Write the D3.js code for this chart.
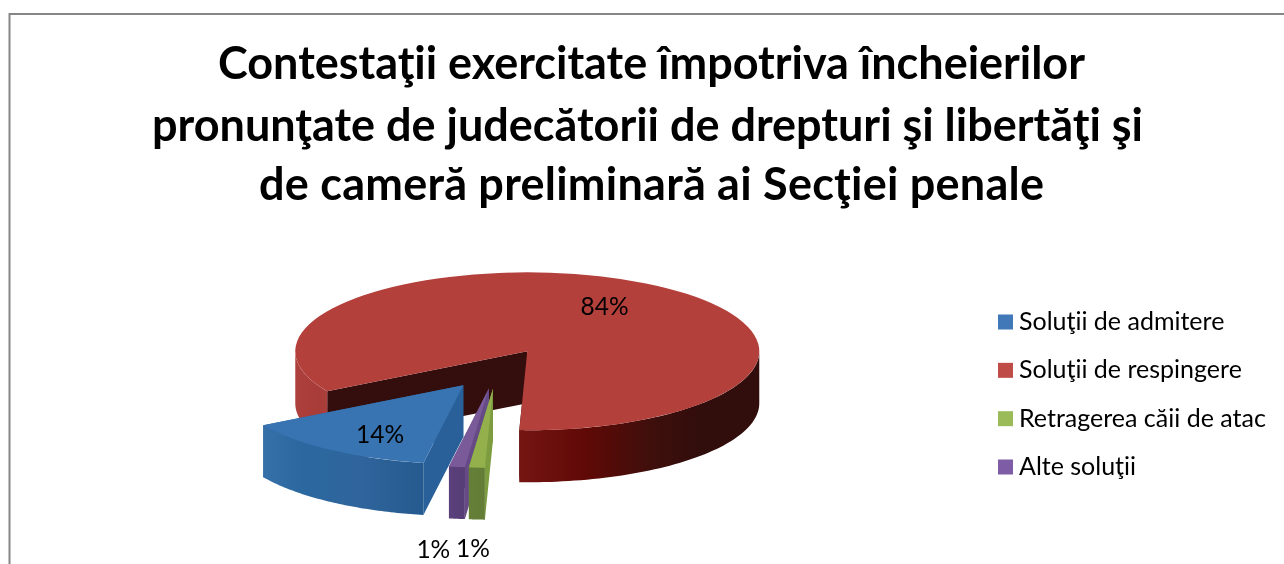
<!DOCTYPE html>
<html><head><meta charset="utf-8">
<script src="https://cdn.jsdelivr.net/npm/d3@7/dist/d3.min.js"></script>
<style>html,body{margin:0;background:#fff;overflow:hidden}svg{display:block;filter:blur(.6px)}text{font-family:Lato,"Open Sans",sans-serif;fill:#000}</style>
</head><body><svg id="c" width="1284" height="564"></svg>
<script>
const titleLines = ["Contestaţii exercitate împotriva încheierilor","pronunţate de judecătorii de drepturi şi libertăţi şi","de cameră preliminară ai Secţiei penale"];
const categories = ["Soluţii de admitere","Soluţii de respingere","Retragerea căii de atac","Alte soluţii"];
const values = [13.8, 84.0, 1.1, 1.1];
const topColors = ["#3874b2","#b4403c","#93b04c","#7a5a99"];
const sideColors = ["#29609a","#340e0d","#7d9c3f","#654a86"];
const legendColors = ["#4178b8","#c04c48","#9bbb59","#7f5da6"];
const wallStops = [
  [["#3670a8",0],["#2b689f",.25],["#2f659c",.6],["#245a8e",1]],
  [["#ad403d",0],["#a83c39",.05],["#ad403d",.08],["#741512",.49],["#600906",.625],["#3f0f0c",.765],["#310d0b",.87],["#310d0b",1]],
  [["#657f38",0],["#637d36",1]],
  [["#5a417c",0],["#573c75",1]]
];
const drawOrder = [1,3,2,0];
const labelRadius = [0.72,0.66,2.0,2.05];
const labelNudge = [[12,3],[-1,1],[12,3],[10,1.5]];

const CX=497, CY=368.6, RX=232, RY=79, DEPTH=52, EXPLODE=0.255, START=189.9;
const svg=d3.select("#c");
const rad=d=>d*Math.PI/180;
const pie=d3.pie().sort(null).value(d=>d).startAngle(rad(START)).endAngle(rad(START+360));
const arcs=pie(values);
const total=d3.sum(values);
const arcGen=d3.arc().innerRadius(0).outerRadius(RX);
const proj=(a,r=1)=>[Math.sin(a)*RX*r,-Math.cos(a)*RY*r];
const line=d3.line();
const defs=svg.append("defs");

// frame
svg.append("path").attr("d",d3.line()([[1284,14],[9.5,14],[9.5,564]])).attr("fill","none").attr("stroke","#868686").attr("stroke-width",2);

// title
const title=svg.append("g");
titleLines.forEach((t,i)=>title.append("text").attr("x",[651.5,647.5,651.5][i]).attr("y",[79,141,200][i]).attr("text-anchor","middle")
  .attr("font-size",45).attr("font-weight",700).attr("textLength",[867,991,785][i]).text(t));

// pie
drawOrder.forEach(i=>{
  const a=arcs[i], mid=(a.startAngle+a.endAngle)/2;
  const off=proj(mid,EXPLODE), ox=CX+off[0], oy=CY+off[1];
  const g=svg.append("g").attr("transform",`translate(${ox},${oy})`);
  const edge=ang=>{const p=proj(ang);return [[0,0],p,[p[0],p[1]+DEPTH],[0,DEPTH]];};
  // cut faces
  g.append("path").attr("d",line(edge(a.startAngle))+"Z").attr("fill",sideColors[i]);
  g.append("path").attr("d",line(edge(a.endAngle))+"Z").attr("fill",sideColors[i]);
  // outer wall: visible where the rim faces the viewer
  const gid="w"+i;
  const spans=[];
  for(const k of [0,1]){
    const lo=Math.max(a.startAngle,rad(90)+k*2*Math.PI), hi=Math.min(a.endAngle,rad(270)+k*2*Math.PI);
    if(hi>lo) spans.push([lo,hi]);
  }
  const xs=spans.flatMap(s=>[proj(s[0])[0],proj(s[1])[0]]);
  const lg=defs.append("linearGradient").attr("id",gid).attr("gradientUnits","userSpaceOnUse")
    .attr("x1",d3.min(xs)).attr("x2",d3.max(xs)).attr("y1",0).attr("y2",0);
  wallStops[i].forEach(s=>lg.append("stop").attr("offset",s[1]).attr("stop-color",s[0]));
  spans.forEach(s=>{
    const pts=d3.range(0,61).map(k=>proj(s[0]+(s[1]-s[0])*k/60));
    const poly=pts.concat(pts.slice().reverse().map(p=>[p[0],p[1]+DEPTH]));
    g.append("path").attr("d",line(poly)+"Z").attr("fill",`url(#${gid})`);
  });
  // top face
  g.append("path").attr("transform",`scale(1,${RY/RX})`).attr("d",arcGen(a)).attr("fill",topColors[i]);
});

// data labels
arcs.forEach((a,i)=>{
  const mid=(a.startAngle+a.endAngle)/2, off=proj(mid,EXPLODE), p=proj(mid,labelRadius[i]);
  svg.append("text").attr("x",CX+off[0]+p[0]+labelNudge[i][0]).attr("y",CY+off[1]+p[1]+8+labelNudge[i][1])
    .attr("text-anchor","middle").attr("font-size",24.5).text(Math.round(a.value/total*100)+"%");
});

// legend
const ly=d3.scalePoint().domain(categories).range([322,467]);
categories.forEach((c,i)=>{
  svg.append("rect").attr("x",998).attr("y",ly(c)-7.5).attr("width",15).attr("height",15).attr("fill",legendColors[i]);
  svg.append("text").attr("x",1019).attr("y",ly(c)+8).attr("font-size",25).text(c);
});
</script></body></html>
